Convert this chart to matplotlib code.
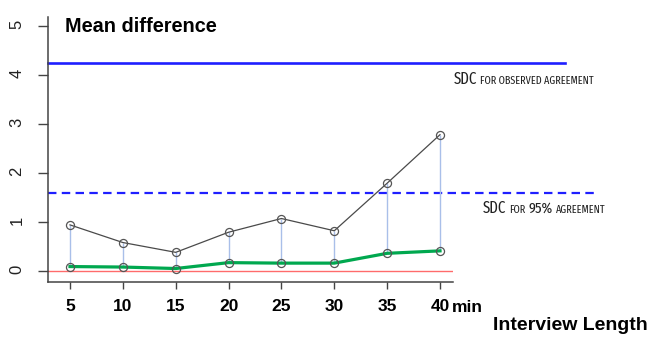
import matplotlib
matplotlib.use("Agg")
import matplotlib.pyplot as plt
from matplotlib import font_manager as fm
import numpy as np
import os

# ---- data ----
minutes = [5, 10, 15, 20, 25, 30, 35, 40]
tick_labels = ["5", "10", "15", "20", "25", "30", "35", "40"]
upper_series = [0.94, 0.58, 0.38, 0.79, 1.07, 0.82, 1.79, 2.78]
lower_series = [0.09, 0.08, 0.05, 0.17, 0.16, 0.16, 0.36, 0.41]
sdc_observed = 4.24
sdc_95 = 1.59
y_ticks = [0, 1, 2, 3, 4, 5]

W, H = 652, 337
fig = plt.figure(figsize=(W / 100, H / 100), dpi=100)
ax = fig.add_axes([48 / W, 1 - 282 / H, (453 - 48) / W, (282 - 17) / H])

ax.set_xlim(2.92, 41.23)
ax.set_ylim(-0.225, 5.18)

# reference lines
ax.axhline(0, color="#ff6b6b", lw=1.0, zorder=1)
ax.axhline(sdc_observed, xmin=0, xmax=(565 - 48) / (453 - 48), color="#1f1fff",
           lw=1.9, clip_on=False, zorder=2)
ax.axhline(sdc_95, xmin=0, xmax=(595 - 48) / (453 - 48), color="#1f1fff",
           lw=1.6, dashes=(3.8, 2.4), clip_on=False, zorder=2)

# vertical connectors
ax.vlines(minutes, lower_series, upper_series, color="#a9bfe9", lw=1.0, zorder=2)

# series
ax.plot(minutes, upper_series, color="#4a4a4a", lw=0.9, zorder=3,
        marker="o", ms=5.8, mfc="none", mec="#555555", mew=0.9)
ax.plot(minutes, lower_series, color="#00a84f", lw=2.3, zorder=3)
ax.plot(minutes, lower_series, ls="none", zorder=4,
        marker="o", ms=5.8, mfc="none", mec="#555555", mew=0.9)

# axes styling
for s in ["top", "right"]:
    ax.spines[s].set_visible(False)
for s in ["left", "bottom"]:
    ax.spines[s].set_color("#444444")
    ax.spines[s].set_linewidth(1.1)

sans = ["Liberation Sans", "DejaVu Sans"]

ax.set_xticks(minutes)
ax.set_xticklabels(tick_labels, fontsize=12.5, fontweight="bold", family=sans)
ax.tick_params(axis="x", length=5, width=1.0, color="#444444", pad=7)

ax.set_yticks(y_ticks)
ax.set_yticklabels([str(v) for v in y_ticks], rotation=90, fontsize=12,
                   family=sans, color="#222222")
ax.tick_params(axis="y", length=7, width=1.0, color="#444444", pad=10)


def ptext(x, y, s, **kw):
    return fig.text(x / W, 1 - y / H, s, **kw)


ptext(65, 32, "Mean difference", fontsize=14.3, fontweight="bold", family=sans,
      va="baseline", ha="left")
ptext(452, 312, "min", fontsize=12.5, fontweight="bold", family=sans,
      va="baseline", ha="left")
ptext(493, 330, "Interview Length", fontsize=14, fontweight="bold", family=sans,
      va="baseline", ha="left")

# ---- pick the narrowest available regular font for the SDC annotations ----
bad = ("Bold", "Italic", "Light", "Thin", "Black", "Semi", "Medium", "Oblique",
       "Heavy", "Mono", "Serif")
files = sorted(set(f.fname for f in fm.fontManager.ttflist))


def find(key):
    for f in files:
        b = os.path.basename(f)
        if key in b and not any(w in b for w in bad):
            return f
    return None


narrow_file = None
for key in ["ExtraCondensed", "Narrow", "Condensed", "Cond"]:
    narrow_file = find(key)
    if narrow_file:
        break


def nfp(size):
    if narrow_file:
        return fm.FontProperties(fname=narrow_file, size=size)
    return fm.FontProperties(family="DejaVu Sans", size=size)


renderer = fig.canvas.get_renderer()


def chain(x, y, parts, target, color="#222222"):
    def place(scale):
        arts = []
        cur = x
        for s, size in parts:
            t = ptext(cur, y, s, fontproperties=nfp(size * scale),
                      va="baseline", ha="left", color=color)
            bb = t.get_window_extent(renderer=renderer)
            arts.append(t)
            cur = bb.x1 + 3
        return arts, cur - 3 - x

    arts, width = place(1.0)
    scale = min(1.0, target / width)
    if scale < 1.0:
        for a in arts:
            a.remove()
        arts, width = place(scale)


chain(454, 84, [("SDC", 12.5), ("FOR OBSERVED AGREEMENT", 8.5)], 139)
chain(483, 213, [("SDC", 12.5), ("FOR", 8.5), ("95%", 12),
                 ("AGREEMENT", 8.5)], 121)

fig.savefig("out.png", dpi=100)
